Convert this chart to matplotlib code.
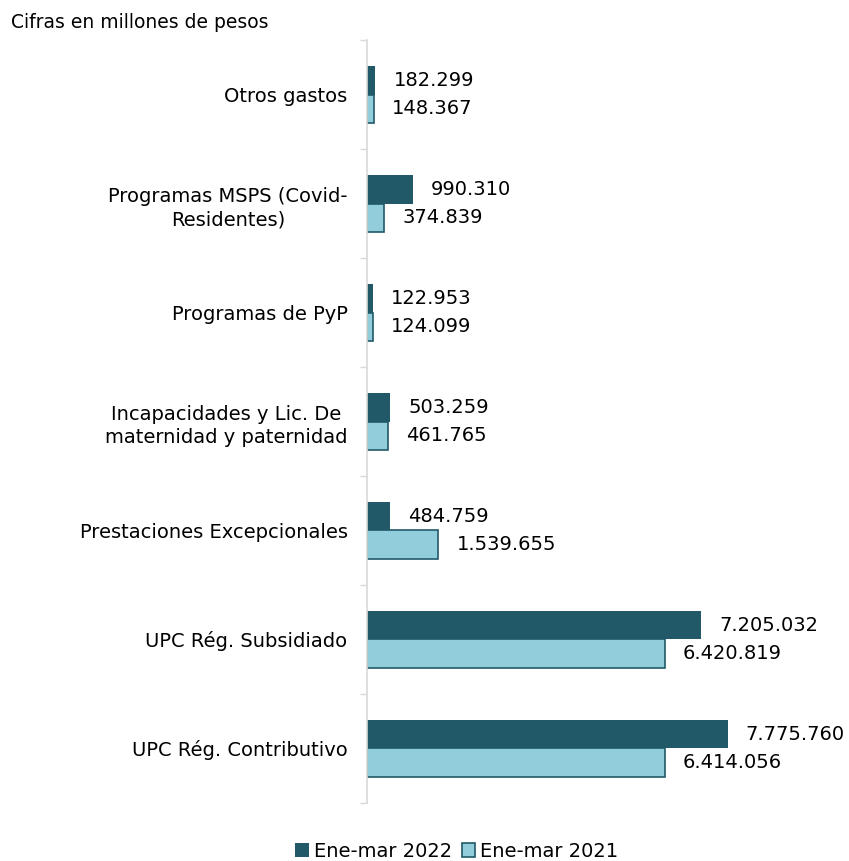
import matplotlib.pyplot as plt
import numpy as np

# datos (de abajo hacia arriba)
categorias = ["UPC Rég. Contributivo", "UPC Rég. Subsidiado", "Prestaciones Excepcionales",
              "Incapacidades y Lic. De\nmaternidad y paternidad", "Programas de PyP",
              "Programas MSPS (Covid-\nResidentes)", "Otros gastos"]
ene_mar_2022 = [7775760, 7205032, 484759, 503259, 122953, 990310, 182299]
ene_mar_2021 = [6414056, 6420819, 1539655, 461765, 124099, 374839, 148367]

oscuro = "#215968"
claro = "#92CDDC"

def fmt(v):
    return f"{v:,}".replace(",", ".")

fig = plt.figure(figsize=(8.49, 8.61), dpi=100)
ax = fig.add_axes([0.4323, 0.0674, 0.5465, 0.8861])

y = np.arange(len(categorias))
h = 0.26
b1 = ax.barh(y + h / 2, ene_mar_2022, height=h, color=oscuro, label="Ene-mar 2022")
b2 = ax.barh(y - h / 2, ene_mar_2021, height=h, color=claro, edgecolor=oscuro,
             linewidth=1.2, label="Ene-mar 2021")

for rect, v in zip(b1, ene_mar_2022):
    ax.annotate(fmt(v), (rect.get_width(), rect.get_y() + rect.get_height() / 2),
                xytext=(13, 0), textcoords="offset points", va="center", fontsize=14)
for rect, v in zip(b2, ene_mar_2021):
    ax.annotate(fmt(v), (rect.get_width(), rect.get_y() + rect.get_height() / 2),
                xytext=(13, 0), textcoords="offset points", va="center", fontsize=14)

ax.set_xlim(0, 10000000)
ax.set_ylim(-0.5, len(categorias) - 0.5)
ax.set_xticks([])
ax.set_yticks(y)
ax.set_yticklabels(categorias, fontsize=14, ha="right", multialignment="center",
                   linespacing=1.3)
ax.tick_params(axis="y", length=0, pad=14)
ax.set_yticks(np.arange(-0.5, len(categorias)), minor=True)
ax.tick_params(axis="y", which="minor", length=5, color="#d9d9d9", width=1)
for s in ["top", "right", "bottom"]:
    ax.spines[s].set_visible(False)
ax.spines["left"].set_color("#d9d9d9")
ax.spines["left"].set_linewidth(1.2)

fig.text(0.013, 0.974, "Cifras en millones de pesos", fontsize=13.5, va="center")

fig.legend(handles=[b1, b2], loc="center", bbox_to_anchor=(0.538, 0.011), ncol=2,
           frameon=False, fontsize=14, handlelength=0.7, handleheight=0.7,
           handletextpad=0.25, columnspacing=0.5)

fig.savefig("out.png", dpi=100)
